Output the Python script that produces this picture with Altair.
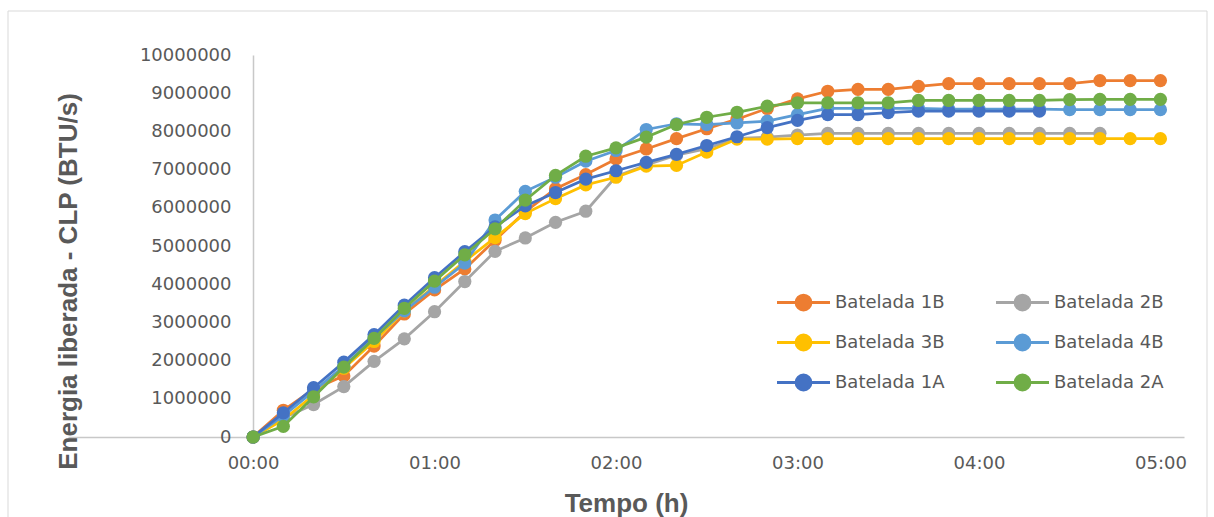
import altair as alt
import pandas as pd

# Tempo (minutos)
minutos = [0, 10, 20, 30, 40, 50, 60, 70, 80, 90, 100, 110, 120, 130, 140, 150,
           160, 170, 180, 190, 200, 210, 220, 230, 240, 250, 260, 270, 280, 290, 300]

series = ["Batelada 1B", "Batelada 2B", "Batelada 3B", "Batelada 4B", "Batelada 1A", "Batelada 2A"]
cores = ["#ED7D31", "#A5A5A5", "#FFC000", "#5B9BD5", "#4472C4", "#70AD47"]
# ordem das entradas na legenda (preenchida por colunas)
ordem_legenda = ["Batelada 1B", "Batelada 3B", "Batelada 1A", "Batelada 2B", "Batelada 4B", "Batelada 2A"]

b1B = [0, 700000, 1250000, 1600000, 2380000, 3220000, 3850000, 4400000, 5150000, 5900000,
       6500000, 6870000, 7280000, 7540000, 7810000, 8070000, 8320000, 8600000, 8850000, 9050000,
       9100000, 9100000, 9180000, 9250000, 9250000, 9250000, 9250000, 9250000, 9330000, 9330000, 9330000]
b2B = [0, 500000, 850000, 1320000, 1980000, 2570000, 3280000, 4070000, 4860000, 5210000,
       5620000, 5910000, 6820000, 7120000, 7380000, 7550000, 7820000, 7850000, 7900000, 7950000,
       7950000, 7950000, 7950000, 7950000, 7950000, 7950000, 7950000, 7950000, 7950000]
b3B = [0, 450000, 1100000, 1800000, 2500000, 3300000, 3950000, 4600000, 5220000, 5850000,
       6240000, 6600000, 6800000, 7090000, 7110000, 7460000, 7800000, 7800000, 7810000, 7810000,
       7810000, 7810000, 7810000, 7810000, 7810000, 7810000, 7810000, 7810000, 7810000, 7810000, 7810000]
b4B = [0, 550000, 1200000, 1850000, 2600000, 3300000, 3920000, 4550000, 5680000, 6430000,
       6800000, 7220000, 7500000, 8050000, 8200000, 8180000, 8220000, 8270000, 8440000, 8600000,
       8600000, 8600000, 8600000, 8580000, 8580000, 8580000, 8580000, 8570000, 8570000, 8570000, 8570000]
b1A = [0, 630000, 1290000, 1960000, 2680000, 3450000, 4170000, 4850000, 5500000, 6050000,
       6400000, 6750000, 6970000, 7190000, 7400000, 7630000, 7860000, 8100000, 8290000, 8440000,
       8440000, 8490000, 8530000, 8530000, 8530000, 8530000, 8530000]
b2A = [0, 280000, 1050000, 1830000, 2580000, 3370000, 4080000, 4770000, 5450000, 6200000,
       6850000, 7350000, 7570000, 7850000, 8180000, 8370000, 8500000, 8660000, 8750000, 8750000,
       8750000, 8750000, 8810000, 8810000, 8810000, 8810000, 8810000, 8830000, 8840000, 8840000, 8840000]

y_ticks = [0, 1000000, 2000000, 3000000, 4000000, 5000000, 6000000, 7000000, 8000000, 9000000, 10000000]
x_ticks = [0, 1, 2, 3, 4, 5]

rows = []
for nome, vals in zip(series, [b1B, b2B, b3B, b4B, b1A, b2A]):
    for m, v in zip(minutos, vals):
        rows.append({"serie": nome, "horas": m / 60.0, "energia": v})
df = pd.DataFrame(rows)

TXT = "#595959"
AXC = "#C8C8C8"

x_enc = alt.X(
    "horas:Q",
    scale=alt.Scale(domain=[-1.02, 5.13], nice=False, zero=False),
    axis=alt.Axis(
        values=x_ticks, labelExpr="'0' + datum.value + ':00'", title="Tempo (h)",
        ticks=False, grid=False, domainColor=AXC, domainWidth=1.5,
        labelFont="DejaVu Sans", labelFontSize=18, labelColor=TXT, labelPadding=17,
        titleFont="Liberation Sans", titleFontSize=26, titleFontWeight="bold", titleColor=TXT,
        titleBaseline="top", titleY=53,
    ),
)
y_enc = alt.Y(
    "energia:Q",
    scale=alt.Scale(domain=[0, 10000000], nice=False),
    axis=alt.Axis(
        values=y_ticks, format="d", title="Energia liberada - CLP  (BTU/s)",
        offset=-185, ticks=False, grid=False, domainColor=AXC, domainWidth=1.5,
        labelFont="DejaVu Sans", labelFontSize=18, labelColor=TXT, labelPadding=22,
        titleFont="Liberation Sans", titleFontSize=26, titleFontWeight="bold", titleColor=TXT,
        titleX=-185, titleY=226, titleAngle=270, titleAlign="center", titleBaseline="middle",
    ),
)

sym = "M-1.767,0L1.767,0M0.493,0A0.493,0.493,0,1,1,-0.493,0A0.493,0.493,0,1,1,0.493,0Z"
legend = alt.Legend(
    title=None, orient="none", legendX=719, legendY=231, columns=2,
    values=ordem_legenda,
    columnPadding=44, rowPadding=10, padding=0,
    symbolType=sym, symbolSize=900, symbolStrokeWidth=3,
    labelFont="DejaVu Sans", labelFontSize=18, labelColor=TXT, labelOffset=15,
)
color_enc = alt.Color("serie:N", scale=alt.Scale(domain=series, range=cores), legend=legend)

layers = []
for nome in series:
    base = alt.Chart(df).transform_filter(alt.datum.serie == nome)
    layers.append(base.mark_line(strokeWidth=2.75).encode(x=x_enc, y=y_enc, color=color_enc))
    layers.append(base.mark_point(filled=True, size=175, opacity=1).encode(x=x_enc, y=y_enc, color=color_enc))

# moldura do gráfico
one = pd.DataFrame({"a": [0]})
frame_col = "#D9D9D9"
frame = [
    alt.Chart(one).mark_rule(color=frame_col, strokeWidth=1).encode(
        x=alt.value(-60), y=alt.value(-44), y2=alt.value(470)),
    alt.Chart(one).mark_rule(color=frame_col, strokeWidth=1).encode(
        x=alt.value(-60), x2=alt.value(1139), y=alt.value(-44)),
    alt.Chart(one).mark_rule(color=frame_col, strokeWidth=1).encode(
        x=alt.value(1139), y=alt.value(-44), y2=alt.value(470)),
]

chart = alt.layer(*frame, *layers).properties(
    width=1116, height=382,
    autosize=alt.AutoSizeParams(type="none"),
    padding={"left": 68, "top": 55, "right": 30, "bottom": 80},
    background="white",
).configure_view(stroke=None)

chart.save("out.html", embed_options={"renderer": "svg", "actions": False})
